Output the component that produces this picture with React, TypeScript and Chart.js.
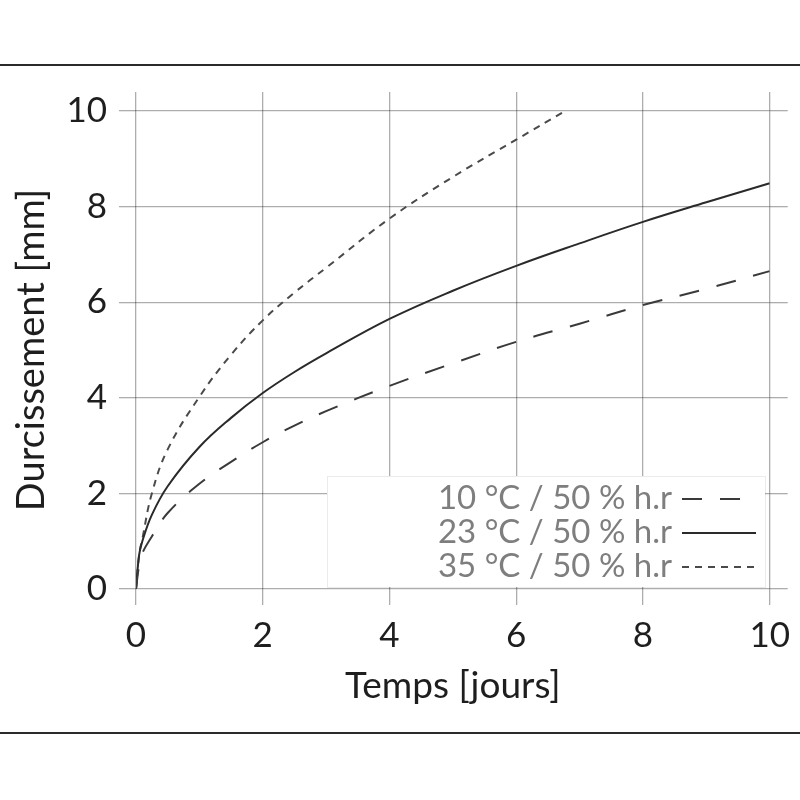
import { useEffect, useRef } from "react";
import { Chart, registerables } from "chart.js";

Chart.register(...registerables);

// Hardening depth (mm) versus curing time (days) for three temperatures at 50 % RH
const days = [0, 0.05, 0.1, 0.25, 0.5, 1, 1.5, 2, 2.5, 3, 4, 5, 6, 7, 8, 9, 10];
const hardening10 = [0, 0.5, 0.75, 1.1, 1.59, 2.2, 2.66, 3.07, 3.42, 3.72, 4.25, 4.72, 5.17, 5.55, 5.94, 6.28, 6.65];
const hardening23 = [0, 0.72, 1.0, 1.55, 2.15, 2.97, 3.58, 4.1, 4.54, 4.93, 5.65, 6.24, 6.76, 7.23, 7.68, 8.09, 8.49];
const days35 = [0, 0.05, 0.1, 0.25, 0.5, 1, 1.5, 2, 2.5, 3, 4, 5, 6, 6.77];
const hardening35 = [0, 0.72, 1.05, 2.0, 2.92, 4.02, 4.9, 5.62, 6.2, 6.72, 7.75, 8.62, 9.4, 10.0];

const seriesLabels = ["10 °C / 50 % h.r", "23 °C / 50 % h.r", "35 °C / 50 % h.r"];
const xTicks = [0, 2, 4, 6, 8, 10];
const yTicks = [0, 2, 4, 6, 8, 10];

const xTitle = "Temps [jours]";
const yTitle = "Durcissement [mm]";

const FONT = "Lato, 'DejaVu Sans', sans-serif";
const GRID = "rgba(0,0,0,0.32)";

const toPoints = (xs: number[], ys: number[]) => xs.map((x, i) => ({ x, y: ys[i] }));

// Horizontal rules above and below the figure
const frameRules = {
  id: "frameRules",
  afterDraw(chart: any) {
    const { ctx, width } = chart;
    ctx.save();
    ctx.strokeStyle = "#2a2a2a";
    ctx.lineWidth = 2;
    [65, 733].forEach((y) => {
      ctx.beginPath();
      ctx.moveTo(0, y);
      ctx.lineTo(width, y);
      ctx.stroke();
    });
    ctx.restore();
  },
};

// Legend box inside the plot, bottom right: right-aligned text, line sample on the right
const insetLegend = {
  id: "insetLegend",
  afterDraw(chart: any) {
    const { ctx } = chart;
    const box = { left: 327, top: 476, right: 765, bottom: 587 };
    ctx.save();
    ctx.fillStyle = "#ffffff";
    ctx.fillRect(box.left, box.top, box.right - box.left, box.bottom - box.top);
    ctx.strokeStyle = "rgba(0,0,0,0.08)";
    ctx.lineWidth = 1;
    ctx.strokeRect(box.left + 0.5, box.top + 0.5, box.right - box.left, box.bottom - box.top);
    const rows = [497, 531, 565];
    chart.data.datasets.forEach((ds: any, i: number) => {
      const y = rows[i];
      ctx.font = `33px ${FONT}`;
      ctx.fillStyle = "#7e7e7e";
      ctx.textAlign = "right";
      ctx.textBaseline = "middle";
      ctx.fillText(ds.label, 672, y + 1);
      ctx.strokeStyle = ds.borderColor;
      ctx.lineWidth = ds.borderWidth;
      ctx.setLineDash(ds.borderDash || []);
      ctx.beginPath();
      ctx.moveTo(682, y + 2);
      ctx.lineTo(756, y + 2);
      ctx.stroke();
      ctx.setLineDash([]);
    });
    ctx.restore();
  },
};

const fixedTicks = (values: number[]) => (scale: any) => {
  scale.ticks = values.map((value) => ({ value }));
};

const lineStyle = {
  borderWidth: 2,
  pointRadius: 0,
  tension: 0.4,
  xAxisID: "x",
  yAxisID: "y",
};

export default function App() {
  const canvasRef = useRef<HTMLCanvasElement | null>(null);

  useEffect(() => {
    if (!canvasRef.current) return;
    const chart = new Chart(canvasRef.current, {
      type: "line",
      data: {
        datasets: [
          {
            ...lineStyle,
            label: seriesLabels[0],
            data: toPoints(days, hardening10),
            borderColor: "#3a3a3a",
            borderDash: [20, 18],
          },
          {
            ...lineStyle,
            label: seriesLabels[1],
            data: toPoints(days, hardening23),
            borderColor: "#2a2a2a",
            borderDash: [],
          },
          {
            ...lineStyle,
            label: seriesLabels[2],
            data: toPoints(days35, hardening35),
            borderColor: "#4a4a4a",
            borderDash: [7, 6],
          },
        ],
      },
      options: {
        responsive: false,
        animation: false,
        layout: { padding: 0 },
        plugins: {
          legend: { display: false },
          tooltip: { enabled: false },
        },
        scales: {
          x: {
            type: "linear",
            position: "bottom",
            min: 0,
            max: 10,
            afterBuildTicks: fixedTicks(xTicks),
            afterFit: (s: any) => { s.height = 211; },
            border: { display: false },
            grid: { color: GRID, lineWidth: 1.3, tickLength: 16 },
            ticks: {
              color: "#1e1e1e",
              font: { family: FONT, size: 35 },
              padding: 10,
              maxRotation: 0,
            },
            title: {
              display: true,
              text: xTitle,
              color: "#1e1e1e",
              font: { family: FONT, size: 37 },
              padding: { bottom: 92 },
            },
          },
          x2: {
            type: "linear",
            position: "top",
            min: 0,
            max: 10,
            afterBuildTicks: fixedTicks(xTicks),
            afterFit: (s: any) => { s.height = 111; },
            border: { display: false },
            grid: { color: GRID, lineWidth: 1.3, tickLength: 19, drawOnChartArea: false },
            ticks: { display: false },
          },
          y: {
            type: "linear",
            position: "left",
            min: 0,
            max: 10,
            afterBuildTicks: fixedTicks(yTicks),
            afterFit: (s: any) => { s.width = 136; },
            border: { display: false },
            grid: { color: GRID, lineWidth: 1.3, tickLength: 17 },
            ticks: {
              color: "#1e1e1e",
              font: { family: FONT, size: 35 },
              padding: 12,
            },
            title: {
              display: true,
              text: yTitle,
              color: "#1e1e1e",
              font: { family: FONT, size: 38 },
              padding: { top: 9 },
            },
          },
          y2: {
            type: "linear",
            position: "right",
            min: 0,
            max: 10,
            afterBuildTicks: fixedTicks(yTicks),
            afterFit: (s: any) => { s.width = 28; },
            border: { display: false },
            grid: { color: GRID, lineWidth: 1.3, tickLength: 18, drawOnChartArea: false },
            ticks: { display: false },
          },
        },
      },
      plugins: [frameRules, insetLegend],
    } as any);
    return () => chart.destroy();
  }, []);

  return (
    <div style={{ position: "fixed", left: 0, top: 0, width: 800, height: 800, background: "#fff" }}>
      <canvas ref={canvasRef} width={800} height={800} style={{ display: "block" }} />
    </div>
  );
}
